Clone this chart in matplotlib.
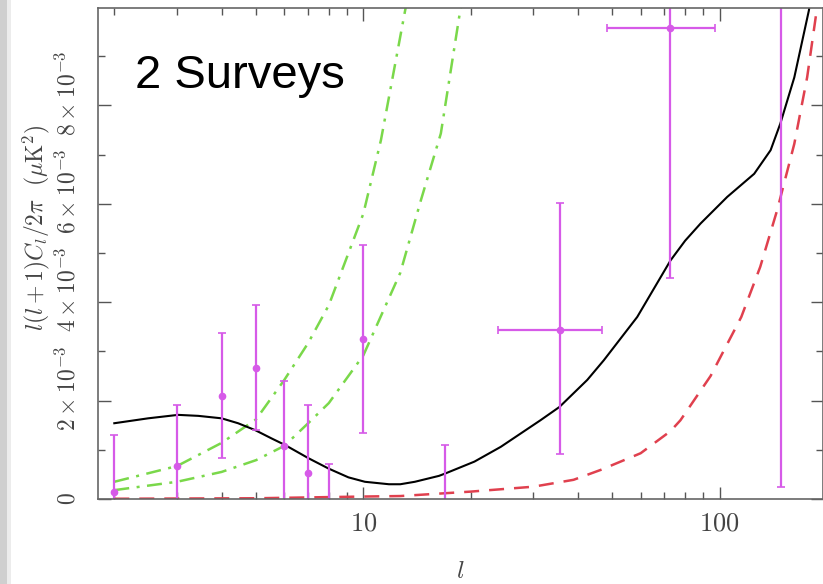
#Import libraries
import matplotlib
matplotlib.use("Agg")
import matplotlib.pyplot as plt
import matplotlib.transforms as mtransforms
from matplotlib.ticker import FixedLocator, MultipleLocator, FuncFormatter
from matplotlib.patches import Rectangle

#Data points (y values in units of 1e-3 muK^2)
data_ell = [2, 3, 4, 5, 6, 7, 8, 10, 17, 35.6, 72.4, 149]
data_val = [0.14, 0.67, 2.10, 2.66, 1.08, 0.53, -0.3, 3.25, -0.3, 3.43, 9.57, 12.0]
data_low = [-0.5, -0.5, 0.83, 1.40, -0.5, -0.5, -0.5, 1.34, -0.5, 0.91, 4.49, 0.25]
data_high = [1.30, 1.91, 3.38, 3.94, 2.40, 1.91, 0.71, 5.16, 1.10, 6.01, 14.0, 20.0]
#Band edges for the binned points (same as ell means no horizontal bar)
band_low = [2, 3, 4, 5, 6, 7, 8, 10, 17, 23.9, 48.2, 149]
band_high = [2, 3, 4, 5, 6, 7, 8, 10, 17, 46.9, 96.8, 149]

#Theory curve (solid black)
theory_ell = [2, 2.49, 3.02, 3.44, 4.0, 4.45, 4.97, 5.53, 6.02, 7.01, 7.98, 9.08, 10.1, 11.8,
              12.7, 13.95, 16.3, 17.0, 20.5, 24.3, 31.4, 35.5, 42.5, 47.3, 58.7, 72.8, 80,
              88.4, 105, 125, 139, 148, 162, 178, 195]
theory_val = [1.54, 1.64, 1.71, 1.69, 1.64, 1.54, 1.40, 1.23, 1.10, 0.83, 0.62, 0.44, 0.35, 0.30,
              0.30, 0.35, 0.47, 0.52, 0.76, 1.06, 1.60, 1.87, 2.42, 2.82, 3.70, 4.85, 5.25,
              5.60, 6.14, 6.61, 7.09, 7.63, 8.57, 9.93, 12.0]

#Noise curve (red dashed)
noise_ell = [2, 5, 10, 12.7, 20, 30, 38.9, 46.3, 60, 72.8, 77.6, 94.3, 115, 130, 145, 162,
             176, 186, 195]
noise_val = [0.005, 0.015, 0.05, 0.06, 0.15, 0.25, 0.39, 0.59, 0.93, 1.38, 1.60, 2.50, 3.70,
             4.72, 5.87, 7.22, 8.57, 9.79, 11.0]

#Foreground curves (green dash-dot)
fg1_ell = [2, 3, 4, 5, 6, 7, 8, 10, 11.2, 13.1, 14]
fg1_val = [0.35, 0.67, 1.14, 1.62, 2.42, 3.17, 3.94, 5.80, 7.29, 9.93, 11.0]
fg2_ell = [2, 3, 4, 5, 6, 7, 8, 10, 12.7, 14.5, 16.5, 18.7, 20]
fg2_val = [0.18, 0.35, 0.55, 0.79, 1.08, 1.54, 1.95, 2.92, 4.60, 6.07, 7.43, 9.93, 11.0]

x_ticks = [10, 100]
y_ticks = [0, 2e-3, 4e-3, 6e-3, 8e-3]

plt.rcParams["mathtext.fontset"] = "cm"
plt.rcParams["font.family"] = "DejaVu Serif"

def scale(vals):
    '''converts the 1e-3 units to real values'''
    return [v * 1e-3 for v in vals]

def y_fmt(v):
    '''tick label like 2x10^-3'''
    if abs(v) < 1e-9:
        return "$0$"
    return r"$%d\times10^{-3}$" % round(v * 1e3)

fig = plt.figure(figsize=(8.23, 5.84), dpi=100)
fig.patch.set_facecolor("white")
#gray frame strip at far left of the screenshot
fig.patches.append(Rectangle((0, 0), 7 / 823, 1, transform=fig.transFigure,
                             facecolor="#cfcfcf", edgecolor="none"))
fig.patches.append(Rectangle((7 / 823, 0), 4 / 823, 1, transform=fig.transFigure,
                             facecolor="#ececec", edgecolor="none"))

ax = fig.add_axes([98 / 823, 1 - 499 / 584, 725 / 823, 491 / 584])
ax.set_xscale("log")

magenta = "#d65ae8"
#curves
ax.plot(fg1_ell, scale(fg1_val), color="#7ad84a", lw=1.8, ls=(0, (6, 3, 1.2, 3)))
ax.plot(fg2_ell, scale(fg2_val), color="#7ad84a", lw=1.8, ls=(0, (6, 3, 1.2, 3)))
ax.plot(noise_ell, scale(noise_val), color="#e0404e", lw=1.8, ls=(0, (6, 4)))
ax.plot(theory_ell, scale(theory_val), color="black", lw=1.5)

#error bars
vals = scale(data_val)
yerr = [[v - lo for v, lo in zip(vals, scale(data_low))],
        [hi - v for v, hi in zip(vals, scale(data_high))]]
xerr = [[e - lo for e, lo in zip(data_ell, band_low)],
        [hi - e for e, hi in zip(data_ell, band_high)]]
ax.errorbar(data_ell, vals, yerr=yerr, xerr=xerr, fmt="o", color=magenta, ms=4.5,
            elinewidth=1.6, capsize=3, capthick=1.2)

ax.set_xlim(1.8, 195)
ax.set_ylim(0, 0.00998)

#ticks
ax.xaxis.set_major_locator(FixedLocator(x_ticks))
ax.xaxis.set_major_formatter(FuncFormatter(lambda v, p: "$%d$" % v))
ax.xaxis.set_minor_formatter(FuncFormatter(lambda v, p: ""))
ax.yaxis.set_major_locator(FixedLocator(y_ticks))
ax.yaxis.set_minor_locator(MultipleLocator(1e-3))
ax.tick_params(which="both", direction="in", top=True, right=True, color="#555555",
               labelcolor="#444444")
ax.tick_params(which="major", length=9, width=1)
ax.tick_params(which="minor", length=5, width=1)
ax.tick_params(axis="x", pad=8, labelsize=19)
ax.tick_params(axis="y", labelleft=False)
for sp in ax.spines.values():
    sp.set_color("#666666")
    sp.set_linewidth(1.2)

#rotated y labels, base number centred on the tick (superscript hangs above)
for v in y_ticks:
    dy = 0 if v == 0 else 9 / 72
    off = mtransforms.ScaledTranslation(-13 / 72, dy, fig.dpi_scale_trans)
    ax.text(0, v, y_fmt(v), transform=ax.get_yaxis_transform() + off, rotation=90,
            ha="right", va="center", fontsize=17, color="#444444")

#axis labels
ax.text(-0.085, 0.552, r"$l(l+1)C_l/2\pi\ \ (\mu{\rm K}^2)$", transform=ax.transAxes,
        rotation=90, ha="center", va="center", fontsize=17, color="#444444")
ax.text(0.5, -0.148, r"$l$", transform=ax.transAxes, ha="center", va="center",
        fontsize=18, color="#444444")

ax.text((135 - 98) / 725, 1 - (88 - 8) / 491, "2 Surveys", transform=ax.transAxes,
        family="Liberation Sans", fontsize=34, va="baseline", ha="left", color="black")

fig.savefig("out.png", dpi=100)
